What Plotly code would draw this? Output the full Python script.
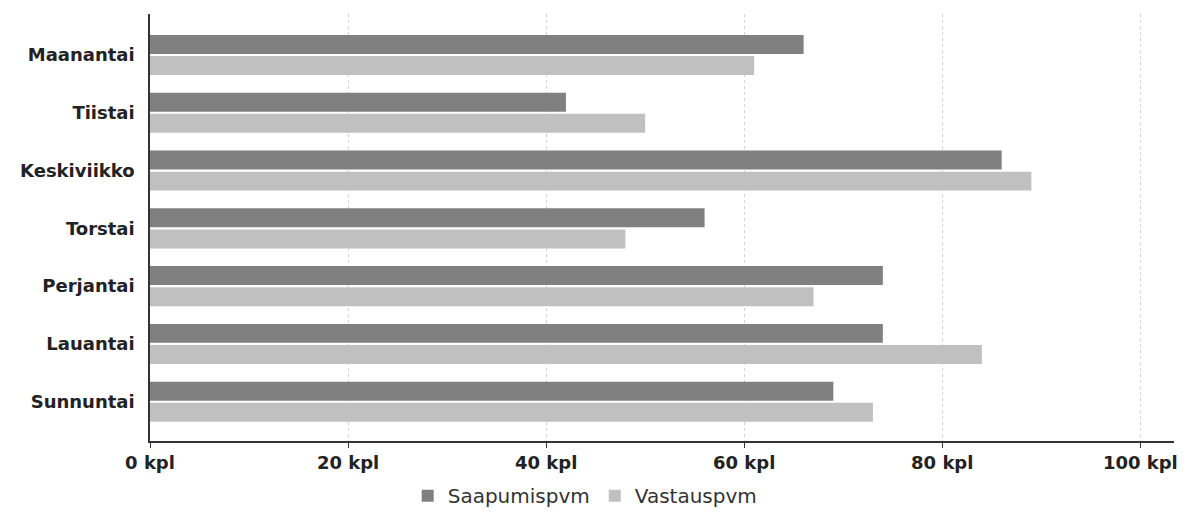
import plotly.graph_objects as go

days = ["Maanantai", "Tiistai", "Keskiviikko", "Torstai", "Perjantai", "Lauantai", "Sunnuntai"]
saapumis = [66, 42, 86, 56, 74, 74, 69]
vastaus = [61, 50, 89, 48, 67, 84, 73]
tick_vals = [0, 20, 40, 60, 80, 100]
tick_text = ["0 kpl", "20 kpl", "40 kpl", "60 kpl", "80 kpl", "100 kpl"]

font_family = "DejaVu Sans"
text_color = "#222222"

fig = go.Figure()
fig.add_trace(go.Bar(y=days, x=saapumis, orientation="h", name="Saapumispvm",
                     marker=dict(color="#808080", line=dict(width=0))))
fig.add_trace(go.Bar(y=days, x=vastaus, orientation="h", name="Vastauspvm",
                     marker=dict(color="#c0c0c0", line=dict(width=0))))

fig.update_layout(
    width=1179, height=507,
    margin=dict(l=142, r=13, t=6, b=74, autoexpand=False),
    paper_bgcolor="white", plot_bgcolor="white",
    barmode="group", bargap=0.27, bargroupgap=0.1,
    font=dict(family=font_family, size=18, color=text_color, weight="bold"),
    legend=dict(orientation="h", x=0.425, xanchor="center", y=-0.128, yanchor="middle",
                font=dict(family=font_family, size=20, color="#333333", weight="normal"),
                itemwidth=30, traceorder="normal"),
    showlegend=True,
)
fig.update_xaxes(range=[0, 103.4], tickvals=tick_vals, ticktext=tick_text,
                 showgrid=True, gridcolor="#d4d4d4", griddash="dot", gridwidth=1,
                 showline=True, linecolor="#333333", linewidth=1.5,
                 ticks="outside", ticklen=5, tickcolor="#333333",
                 zeroline=False, automargin=False,
                 tickfont=dict(family=font_family, size=18, color=text_color, weight="bold"))
fig.update_yaxes(categoryorder="array", categoryarray=days, range=[6.68, -0.71],
                 showgrid=False, showline=True, linecolor="#333333", linewidth=1.5,
                 ticks="", ticklabelstandoff=10, automargin=False,
                 tickfont=dict(family=font_family, size=18, color=text_color, weight="bold"))

fig.write_html("out.html")
